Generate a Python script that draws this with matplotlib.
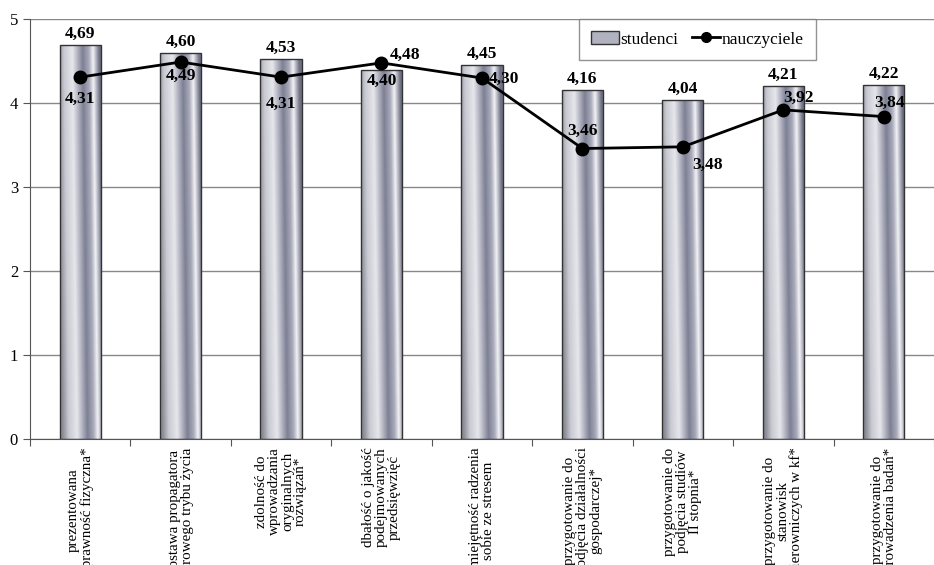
import matplotlib
matplotlib.use('Agg')
import matplotlib.pyplot as plt
import numpy as np
from matplotlib.colors import LinearSegmentedColormap
from matplotlib.lines import Line2D
from matplotlib.patches import Patch

categories = [
    'prezentowana\nsprawność fizyczna*',
    'postawa propagatora\nzdrowego trybu życia',
    'zdolność do\nwprowadzania\noryginalnych\nrozwiązań*',
    'dbałość o jakość\npodejmowanych\nprzedsięwzięć',
    'umiejętność radzenia\nsobie ze stresem',
    'przygotowanie do\npodjęcia działalności\ngospodarczej*',
    'przygotowanie do\npodjęcia studiów\nII stopnia*',
    'przygotowanie do\nstanowisk\nkierowniczych w kf*',
    'przygotowanie do\nprowadzenia badań*',
]
studenci = [4.69, 4.60, 4.53, 4.40, 4.45, 4.16, 4.04, 4.21, 4.22]
nauczyciele = [4.31, 4.49, 4.31, 4.48, 4.30, 3.46, 3.48, 3.92, 3.84]

# label offsets (points) for the values
s_off = [(0, 8), (0, 8), (0, 8), (0, -8), (0, 8), (0, 8), (0, 8), (0, 8), (0, 8)]
n_off = [(0, -16), (0, -10), (0, -19), (17, 6), (16, -1), (0, 13), (18, -13), (11, 9), (4, 10)]

plt.rcParams['font.family'] = ['Liberation Serif', 'DejaVu Serif']

fig = plt.figure(figsize=(9.34, 5.65), dpi=100)
ax = fig.add_axes([0.032, 0.223, 0.968, 0.743])

x = np.arange(len(categories))
w = 0.41

# metallic gradient for bars
cmap = LinearSegmentedColormap.from_list('metal', [
    (0.0, '#8a8c96'), (0.15, '#c9cad2'), (0.35, '#e6e6ec'),
    (0.6, '#7d8094'), (0.75, '#a9abba'), (0.85, '#f2f2f6'), (1.0, '#6e7184')])
gx, gy = np.meshgrid(np.linspace(0, 1, 80), np.linspace(0, 1, 200))
grad = np.clip(gx + 0.12 * (gy - 0.5), 0, 1)

bars = ax.bar(x, studenci, w, color='none', edgecolor='#333333', linewidth=1.0, zorder=3)
for b in bars:
    x0, y0 = b.get_x(), b.get_y()
    im = ax.imshow(grad, cmap=cmap, extent=[x0, x0 + b.get_width(), y0, y0 + b.get_height()],
                   aspect='auto', zorder=2, origin='lower')
    im.set_clip_path(b)

for xi, v, off in zip(x, studenci, s_off):
    ax.annotate(f'{v:.2f}'.replace('.', ','), (xi, v), xytext=off, textcoords='offset points',
                ha='center', va='center', fontsize=12.5, fontweight='bold', zorder=5)

ax.plot(x, nauczyciele, color='black', lw=2, marker='o', markersize=9, zorder=4)
for xi, v, off in zip(x, nauczyciele, n_off):
    ax.annotate(f'{v:.2f}'.replace('.', ','), (xi, v), xytext=off, textcoords='offset points',
                ha='center', va='center', fontsize=12.5, fontweight='bold', zorder=5)

ax.set_xlim(-0.5, 8.5)
ax.set_ylim(0, 5)
ax.set_yticks(range(6))
ax.yaxis.grid(True, color='#888888', lw=1)
ax.set_axisbelow(True)
ax.set_xticks(np.arange(-0.5, 9, 1))
ax.set_xticklabels([])
ax.set_xticks(x, minor=True)
ax.set_xticklabels(categories, minor=True, rotation=90, fontsize=10.8, linespacing=1.0,
                   va='top', ha='center')
ax.tick_params(axis='x', which='minor', length=0, pad=6)
ax.tick_params(axis='x', which='major', length=5, color='#555555')
ax.tick_params(axis='y', length=5, color='#555555', labelsize=12)
for s in ['top', 'right']:
    ax.spines[s].set_visible(False)
for s in ['left', 'bottom']:
    ax.spines[s].set_color('#555555')

handles = [Patch(facecolor='#b0b2bf', edgecolor='#333333', label='studenci'),
           Line2D([0], [0], color='black', lw=2, marker='o', markersize=7, label='nauczyciele')]
leg = ax.legend(handles=handles, loc='upper left', bbox_to_anchor=(0.607, 1.0), ncol=2,
                fontsize=12.5, frameon=True, fancybox=False, edgecolor='#777777',
                handlelength=1.6, handletextpad=0.1, columnspacing=0.8, borderpad=0.7,
                borderaxespad=0)
leg.get_frame().set_linewidth(1)

fig.savefig('out.png', dpi=100)
